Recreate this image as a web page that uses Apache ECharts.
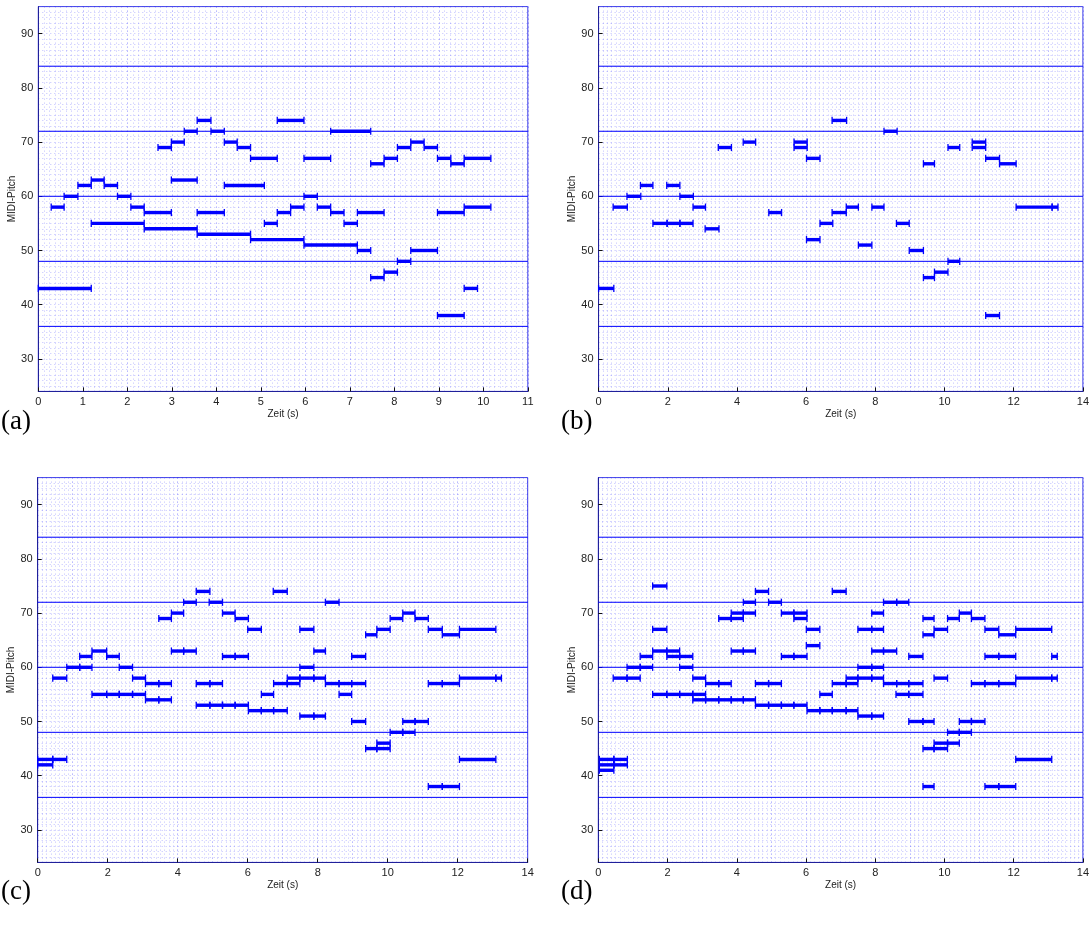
<!DOCTYPE html>
<html>
<head>
<meta charset="utf-8">
<script src="https://cdn.jsdelivr.net/npm/echarts@6/dist/echarts.min.js"></script>
<style>html,body{margin:0;padding:0;background:#fff}#c{width:1092px;height:936px}</style>
</head>
<body>
<div id="c"></div>
<script>
// ---- data: notes as [MIDI pitch, onset (s), offset (s)] ----
const notesA = [[43,0.00,1.19],[58,0.29,0.58],[60,0.58,0.89],[62,0.89,1.19],[63,1.19,1.48],[55,1.19,2.38],[62,1.48,1.78],[60,1.78,2.08],[58,2.08,2.38],[57,2.38,2.99],[54,2.38,3.57],[69,2.69,2.99],[70,2.99,3.28],[63,2.99,3.57],[72,3.28,3.57],[74,3.57,3.88],[57,3.57,4.18],[53,3.57,4.77],[72,3.88,4.18],[70,4.18,4.47],[62,4.18,5.08],[69,4.47,4.77],[67,4.77,5.37],[52,4.77,5.97],[55,5.08,5.37],[74,5.37,5.97],[57,5.37,5.67],[58,5.67,5.97],[67,5.97,6.57],[60,5.97,6.27],[51,5.97,7.17],[58,6.27,6.57],[72,6.57,7.47],[57,6.57,6.87],[55,6.87,7.17],[57,7.17,7.77],[50,7.17,7.47],[66,7.47,7.77],[45,7.47,7.77],[67,7.77,8.07],[46,7.77,8.07],[69,8.07,8.37],[48,8.07,8.37],[70,8.37,8.67],[50,8.37,8.97],[69,8.67,8.97],[67,8.97,9.27],[57,8.97,9.57],[38,8.97,9.57],[66,9.27,9.57],[67,9.57,10.17],[58,9.57,10.17],[43,9.57,9.87]];
const notesB = [[43,0.00,0.44],[58,0.42,0.83],[60,0.82,1.22],[62,1.21,1.57],[55,1.57,1.98],[62,1.97,2.35],[55,1.98,2.35],[60,2.35,2.74],[55,2.35,2.73],[58,2.73,3.09],[54,3.08,3.48],[69,3.46,3.84],[70,4.18,4.54],[57,4.92,5.29],[70,5.65,6.03],[69,5.65,6.03],[67,6.01,6.40],[52,6.01,6.40],[55,6.40,6.77],[74,6.75,7.17],[57,6.75,7.16],[58,7.16,7.51],[51,7.51,7.90],[58,7.90,8.25],[72,8.25,8.63],[55,8.61,8.98],[50,8.98,9.39],[66,9.39,9.71],[45,9.39,9.71],[46,9.71,10.10],[69,10.10,10.44],[48,10.10,10.44],[70,10.80,11.19],[69,10.80,11.19],[67,11.19,11.59],[38,11.19,11.59],[66,11.59,12.07],[58,12.07,13.11],[58,13.11,13.28]];
const notesC = [[42,0.00,0.43],[43,0.00,0.43],[43,0.43,0.83],[58,0.43,0.83],[60,0.83,1.20],[60,1.20,1.55],[62,1.20,1.55],[63,1.55,1.97],[55,1.55,1.97],[55,1.97,2.33],[62,1.97,2.33],[60,2.33,2.71],[55,2.33,2.71],[58,2.71,3.08],[55,2.71,3.08],[57,3.08,3.46],[54,3.08,3.46],[69,3.46,3.82],[57,3.46,3.82],[54,3.46,3.82],[70,3.82,4.17],[63,3.82,4.17],[72,4.17,4.53],[63,4.17,4.53],[74,4.53,4.92],[57,4.53,4.92],[53,4.53,4.92],[72,4.90,5.28],[57,4.92,5.28],[53,4.92,5.28],[70,5.28,5.64],[62,5.28,5.64],[53,5.28,5.64],[69,5.64,6.02],[62,5.64,6.02],[53,5.64,6.02],[67,6.00,6.39],[52,6.02,6.39],[55,6.39,6.74],[52,6.39,6.74],[74,6.73,7.13],[57,6.74,7.13],[52,6.74,7.13],[58,7.13,7.49],[57,7.13,7.49],[67,7.49,7.89],[60,7.49,7.89],[58,7.49,7.89],[51,7.49,7.89],[63,7.89,8.22],[58,7.89,8.22],[51,7.89,8.22],[72,8.22,8.61],[57,8.22,8.61],[57,8.61,8.97],[55,8.61,8.97],[62,8.97,9.37],[57,8.97,9.37],[50,8.97,9.37],[66,9.37,9.69],[45,9.37,9.69],[67,9.69,10.07],[46,9.69,10.07],[45,9.69,10.07],[69,10.07,10.43],[48,10.07,10.43],[70,10.43,10.78],[50,10.43,10.78],[48,10.43,10.78],[69,10.78,11.16],[50,10.78,11.16],[67,11.16,11.56],[57,11.16,11.56],[38,11.16,11.56],[66,11.56,12.05],[57,11.56,12.05],[38,11.56,12.05],[67,12.05,13.09],[58,12.05,13.09],[58,13.09,13.25],[43,12.05,13.09]];
const notesD = [[43,0.03,0.45],[43,0.45,0.84],[42,0.03,0.45],[42,0.45,0.84],[41,0.03,0.45],[58,0.43,0.83],[58,0.83,1.21],[60,0.83,1.21],[60,1.21,1.57],[62,1.21,1.57],[75,1.57,1.98],[67,1.57,1.98],[63,1.57,1.98],[63,1.98,2.35],[55,1.57,1.98],[55,1.98,2.35],[62,1.98,2.35],[62,2.35,2.73],[60,2.35,2.73],[55,2.35,2.73],[58,2.73,3.10],[55,2.73,3.10],[54,2.73,3.10],[57,3.10,3.48],[54,3.10,3.48],[69,3.48,3.84],[57,3.48,3.84],[54,3.48,3.84],[70,3.84,4.19],[69,3.84,4.19],[63,3.84,4.19],[54,3.84,4.19],[72,4.19,4.54],[70,4.19,4.54],[63,4.19,4.54],[54,4.19,4.54],[74,4.54,4.92],[57,4.54,4.92],[53,4.54,4.92],[72,4.92,5.29],[57,4.92,5.29],[53,4.92,5.29],[70,5.29,5.65],[62,5.29,5.65],[53,5.29,5.65],[70,5.65,6.03],[69,5.65,6.03],[62,5.65,6.03],[53,5.65,6.03],[67,6.01,6.40],[64,6.01,6.40],[52,6.03,6.40],[55,6.40,6.76],[52,6.40,6.76],[74,6.76,7.16],[57,6.76,7.16],[52,6.76,7.16],[58,7.16,7.50],[57,7.16,7.50],[52,7.16,7.50],[67,7.50,7.90],[60,7.50,7.90],[58,7.50,7.90],[51,7.50,7.90],[70,7.90,8.24],[67,7.90,8.24],[63,7.90,8.24],[60,7.90,8.24],[58,7.90,8.24],[51,7.90,8.24],[72,8.24,8.62],[63,8.24,8.62],[57,8.24,8.62],[72,8.62,8.97],[57,8.62,8.97],[55,8.60,8.97],[62,8.97,9.38],[57,8.97,9.38],[55,8.97,9.38],[50,8.97,9.38],[69,9.38,9.70],[66,9.38,9.70],[50,9.38,9.70],[45,9.38,9.70],[38,9.38,9.70],[67,9.70,10.09],[58,9.70,10.09],[46,9.70,10.09],[45,9.70,10.09],[69,10.09,10.43],[48,10.09,10.43],[46,10.09,10.43],[70,10.43,10.78],[50,10.43,10.78],[48,10.43,10.78],[69,10.78,11.17],[57,10.78,11.17],[50,10.78,11.17],[67,11.17,11.57],[62,11.17,11.57],[57,11.17,11.57],[38,11.17,11.57],[66,11.57,12.06],[62,11.57,12.06],[57,11.57,12.06],[38,11.57,12.06],[67,12.06,13.10],[58,12.06,13.10],[43,12.06,13.10],[62,13.10,13.26],[58,13.10,13.26]];

const yTickValues = [30, 40, 50, 60, 70, 80, 90];
const cLines = [36, 48, 60, 72, 84];
const panelLabels = ['(a)', '(b)', '(c)', '(d)'];
const xMax = [11, 14, 14, 14];
const xLabelStep = [1, 2, 2, 2];
const yMin = 24, yMax = 95;
const xName = 'Zeit (s)';
const yName = 'MIDI-Pitch';

// ---- layout ----
const panels = [
  {notes: notesA, left: 38.3, top: 6.6, width: 489.5},
  {notes: notesB, left: 598.6, top: 6.6, width: 489},
  {notes: notesC, left: 37.7, top: 477.6, width: 490},
  {notes: notesD, left: 598.3, top: 477.6, width: 490}
];
const H = 384.8;
const BLUE = '#0000ff';
const FONT = 'Liberation Sans, Arial, Helvetica, sans-serif';

const grids = [], xAxes = [], yAxes = [], series = [], graphics = [];

panels.forEach((p, i) => {
  grids.push({left: p.left, top: p.top, width: p.width, height: H, show: true,
    borderColor: '#4040e8', borderWidth: 1, backgroundColor: '#fff'});
  // labelled x axis
  xAxes.push({gridIndex: i, type: 'value', min: 0, max: xMax[i], interval: xLabelStep[i],
    position: 'bottom',
    axisLine: {show: true, onZero: false, lineStyle: {color: '#20209a', width: 1}},
    axisTick: {show: true, inside: true, length: 4, lineStyle: {color: '#111'}},
    axisLabel: {show: true, color: '#222', fontSize: 11, fontFamily: FONT, margin: 5},
    splitLine: {show: false},
    name: xName, nameLocation: 'middle', nameGap: 18,
    nameTextStyle: {color: '#222', fontSize: 10, fontFamily: FONT}
  });
  // grid-line x axis
  xAxes.push({gridIndex: i, type: 'value', min: 0, max: xMax[i], interval: 1,
    position: 'bottom',
    axisLine: {show: false}, axisTick: {show: false}, axisLabel: {show: false},
    splitLine: {show: true, lineStyle: {color: 'rgba(30,30,255,0.5)', width: 1, type: [1, 3]}},
    minorTick: {show: false, splitNumber: 8},
    minorSplitLine: {show: true, lineStyle: {color: 'rgba(30,30,255,0.28)', width: 1, type: [1, 3]}}
  });
  // labelled y axis
  yAxes.push({gridIndex: i, type: 'value', min: yMin, max: yMax,
    axisLine: {show: true, onZero: false, lineStyle: {color: '#20209a', width: 1}},
    axisTick: {show: true, inside: true, length: 4, customValues: yTickValues, lineStyle: {color: '#111'}},
    axisLabel: {show: true, color: '#222', fontSize: 11, fontFamily: FONT, margin: 5, customValues: yTickValues},
    splitLine: {show: false},
    name: yName, nameLocation: 'middle', nameGap: 20, nameRotate: 90,
    nameTextStyle: {color: '#222', fontSize: 10, fontFamily: FONT}
  });
  // grid-line y axis (each semitone)
  yAxes.push({gridIndex: i, type: 'value', min: yMin, max: yMax, interval: 1,
    axisLine: {show: false}, axisTick: {show: false}, axisLabel: {show: false},
    splitLine: {show: true, lineStyle: {color: 'rgba(30,30,255,0.28)', width: 1, type: [1, 3]}}
  });

  // C lines
  series.push({type: 'custom', xAxisIndex: 2 * i, yAxisIndex: 2 * i, silent: true, z: 3,
    data: cLines.map(v => [v]),
    encode: {y: 0},
    renderItem: (params, api) => {
      const cs = params.coordSys;
      const y = api.coord([0, api.value(0)])[1];
      return {type: 'line', shape: {x1: cs.x, y1: y, x2: cs.x + cs.width, y2: y},
        style: {stroke: BLUE, lineWidth: 1}};
    }
  });
  // notes
  series.push({type: 'custom', xAxisIndex: 2 * i, yAxisIndex: 2 * i, silent: true, z: 5,
    data: p.notes,
    encode: {x: [1, 2], y: 0},
    renderItem: (params, api) => {
      const pitch = api.value(0), on = api.value(1), off = api.value(2);
      const a = api.coord([on, pitch]), b = api.coord([off, pitch]);
      const h = 3.4, c = 3.6;
      return {type: 'group', children: [
        {type: 'rect', shape: {x: a[0], y: a[1] - h / 2, width: b[0] - a[0], height: h}, style: {fill: BLUE}},
        {type: 'line', shape: {x1: a[0], y1: a[1] - c, x2: a[0], y2: a[1] + c}, style: {stroke: BLUE, lineWidth: 1.3}},
        {type: 'line', shape: {x1: b[0], y1: b[1] - c, x2: b[0], y2: b[1] + c}, style: {stroke: BLUE, lineWidth: 1.3}}
      ]};
    }
  });
});

const labelPos = [[1, 423], [561, 423], [1, 893], [561, 893]];
panelLabels.forEach((t, i) => {
  graphics.push({type: 'text', left: labelPos[i][0], top: labelPos[i][1] - 15,
    style: {text: t, font: '27px "Liberation Serif", "DejaVu Serif", serif', fill: '#000'}});
});

const chart = echarts.init(document.getElementById('c'), null, {renderer: 'canvas'});
chart.setOption({
  backgroundColor: '#fff',
  animation: false,
  grid: grids,
  xAxis: xAxes,
  yAxis: yAxes,
  series: series,
  graphic: graphics
});
</script>
</body>
</html>
